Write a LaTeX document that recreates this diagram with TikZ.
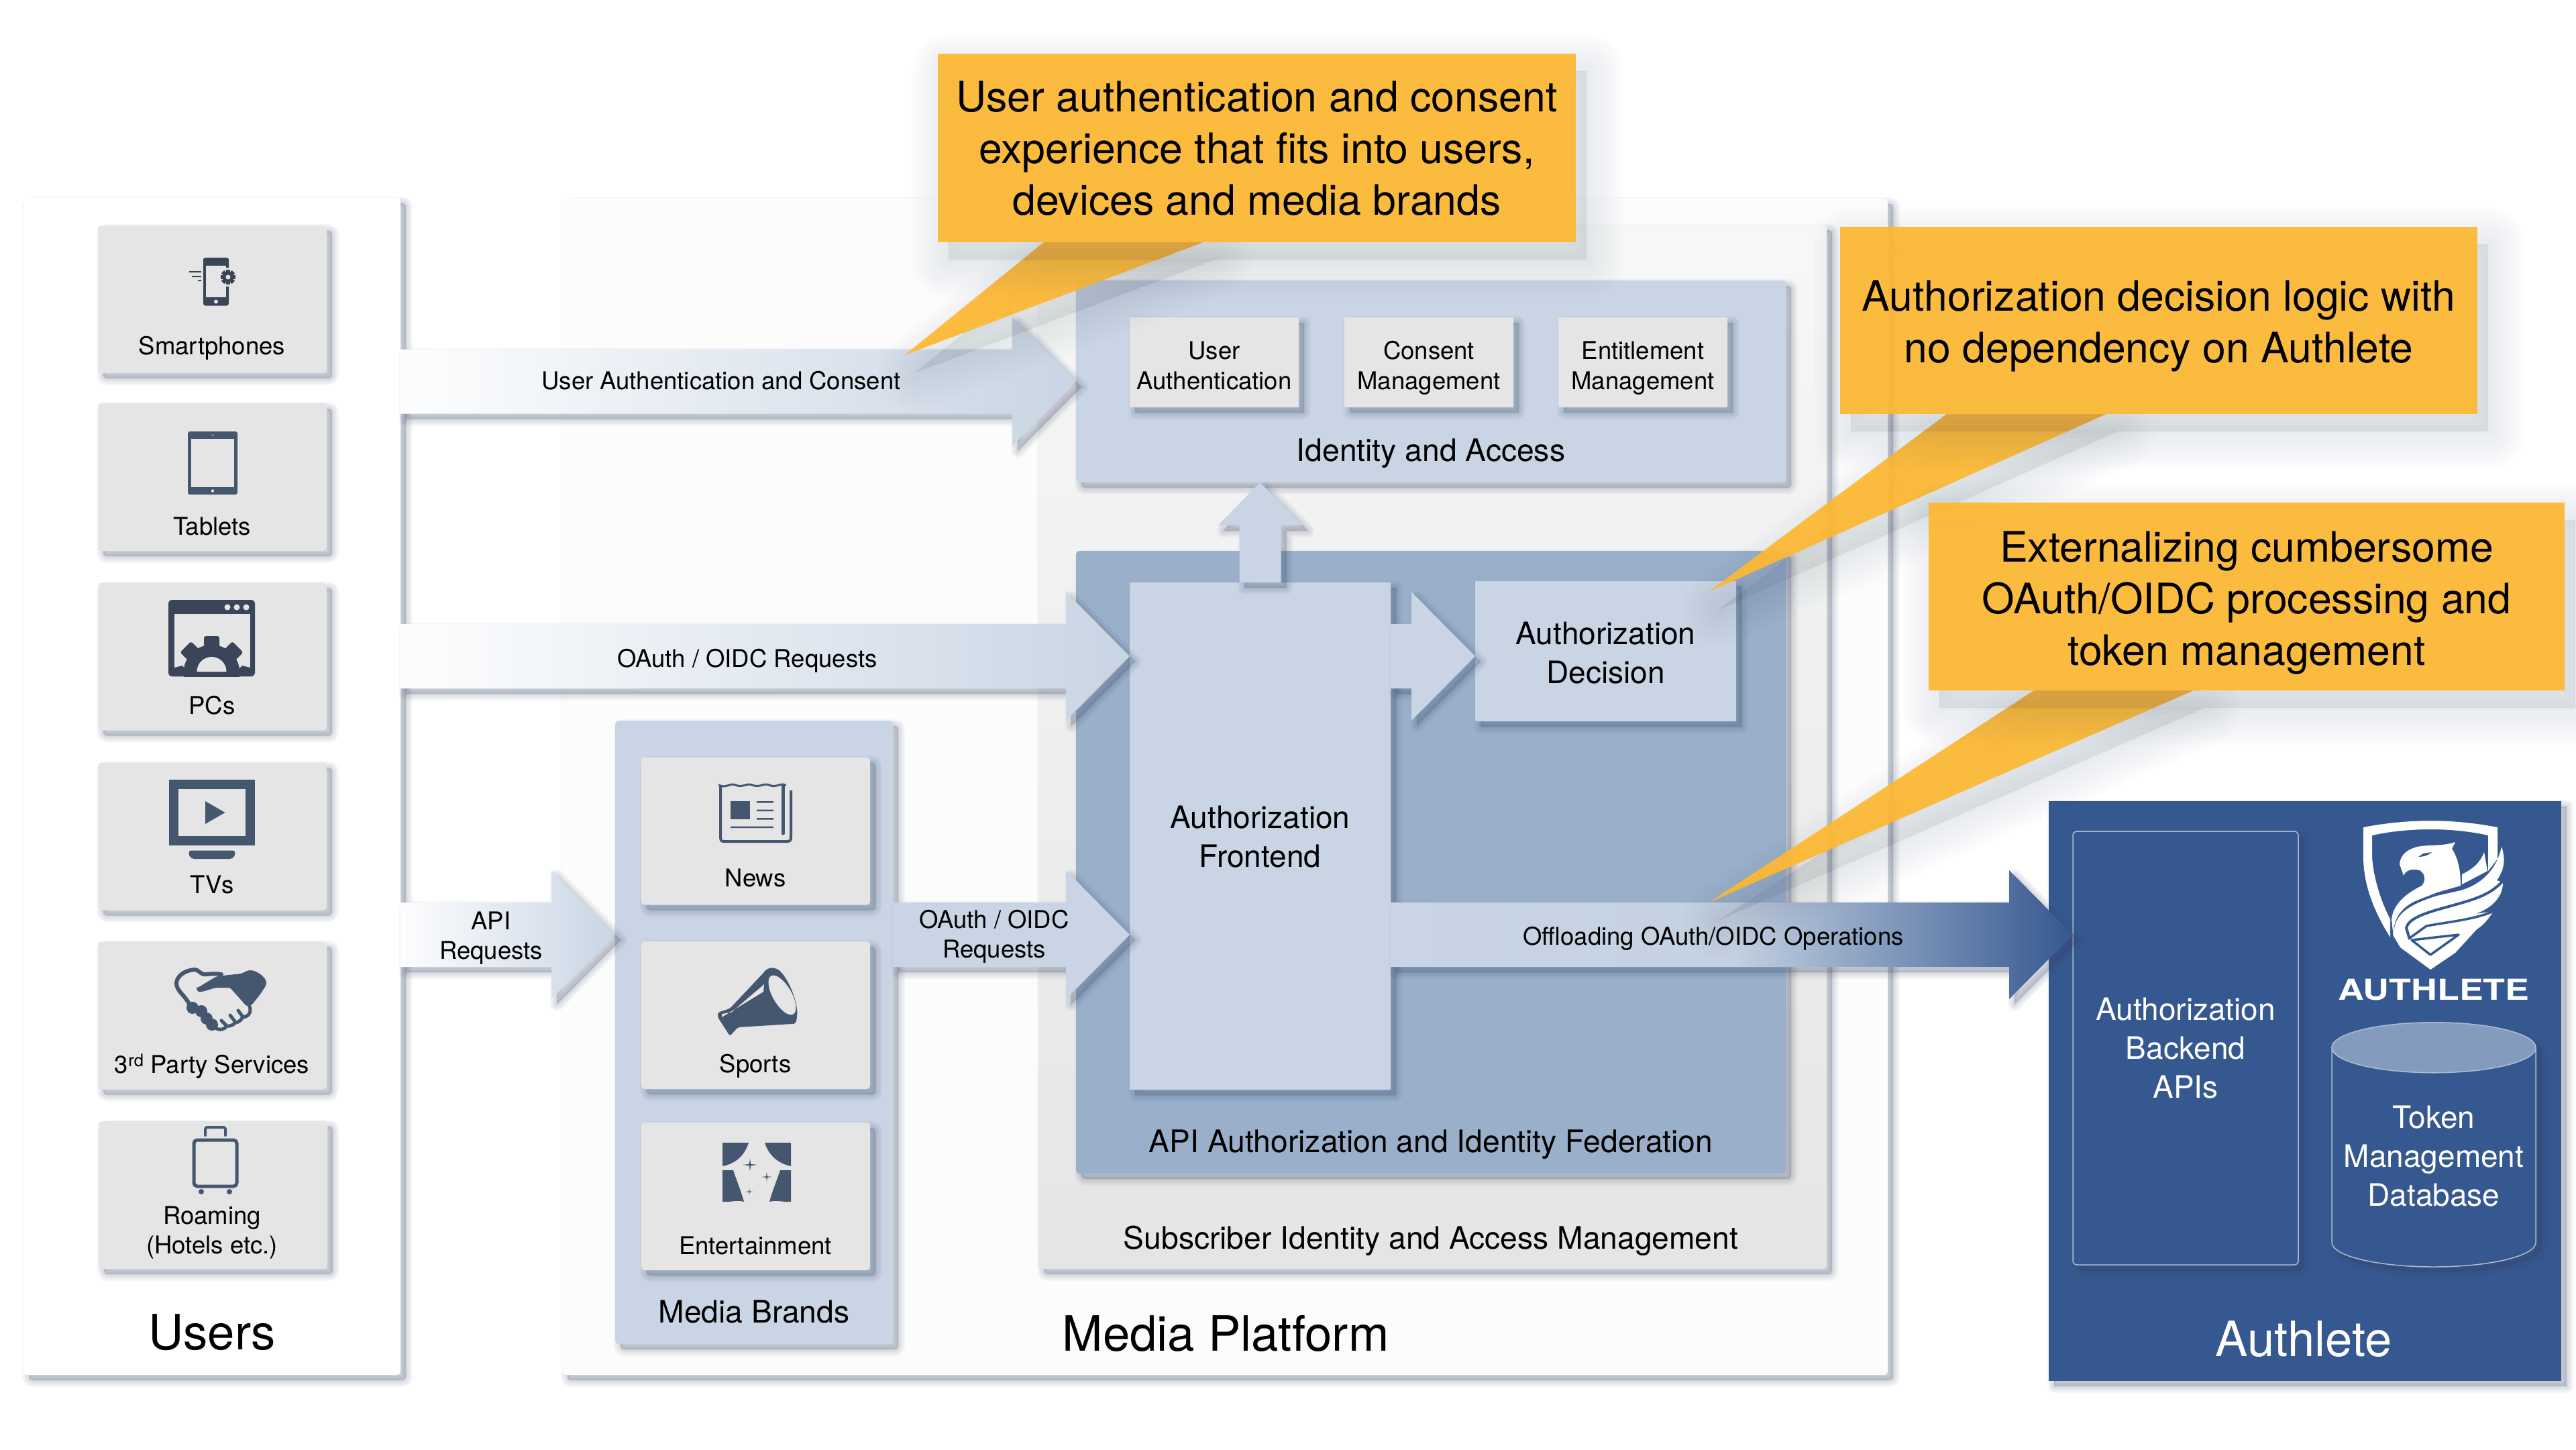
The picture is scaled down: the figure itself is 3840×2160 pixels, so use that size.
\documentclass[tikz,border=0pt]{standalone}
\usepackage{fontspec}
\setmainfont{TeX Gyre Heros}
\newfontfamily\logofont[FakeStretch=1.25]{TeX Gyre Heros}
\usepackage{xcolor}
\usetikzlibrary{calc}
\usetikzlibrary{shapes.geometric}

\definecolor{shadowblue}{HTML}{3A4A6A}
\definecolor{tilegrey}{HTML}{E5E5E5}
\definecolor{paleblue}{HTML}{C9D5E4}
\definecolor{midblue}{HTML}{9AAFC9}
\definecolor{authblue}{HTML}{355890}
\definecolor{dbtop}{HTML}{859BBD}
\definecolor{noteorange}{RGB}{253,184,50}
\definecolor{iconcol}{HTML}{45566F}
\definecolor{icondark}{HTML}{3B4559}

\tikzset{
  shadowlayer/.style={preaction={draw=shadowblue, fill=shadowblue, opacity=.04, line width=#1, line join=round, transform canvas={xshift=8pt, yshift=-8pt}}},
  softshadow/.style={shadowlayer=20, shadowlayer=16, shadowlayer=12, shadowlayer=8, shadowlayer=4, shadowlayer=1},
  notelayer/.style={preaction={draw=shadowblue, fill=shadowblue, opacity=.01, line width=#1, line join=round, transform canvas={xshift=16pt, yshift=-26pt}}},
  noteshadow/.style={notelayer=110, notelayer=95, notelayer=80, notelayer=65, notelayer=50, notelayer=35, notelayer=20, notelayer=5},
  % the last baseline sits half of this below the centre of the node
  lastline/.style={text height=#1, text depth=0pt},
  panel/.style={rectangle, rounded corners=5, inner sep=0, outer sep=0, softshadow},
  tile/.style={panel, fill=tilegrey, minimum width=341, minimum height=220},
  smalltile/.style={tile, lastline=80pt, minimum width=252, minimum height=134, rounded corners=1, align=center, font=\fontsize{36.5}{45}\selectfont},
  bluebox/.style={panel, fill=paleblue, rounded corners=1, align=center, font=\fontsize{46}{58}\selectfont},
  tilelabel/.style={anchor=base, inner sep=0, font=\fontsize{36.5}{44}\selectfont},
  arrowlabel/.style={inner sep=0, align=center, font=\fontsize{36.5}{44}\selectfont},
  sectionlabel/.style={anchor=base, inner sep=0, font=\fontsize{46.2}{58}\selectfont},
  biglabel/.style={anchor=base, inner sep=0, font=\fontsize{72.5}{80}\selectfont},
  note/.style={rectangle, fill=noteorange, fill opacity=.93, text opacity=1, inner sep=0, outer sep=0, align=center, font=\fontsize{62.5}{77}\selectfont},
  notetail/.style={fill=noteorange, fill opacity=.93},
  icon/.style={fill=iconcol},
  iconline/.style={draw=iconcol, line width=5, line cap=round, line join=round},
}

% horizontal block arrow: [options]{from}{to}
\newcommand{\blockarrow}[3][]{%
  \path[softshadow, #1] let \p1=(#2), \p2=(#3) in
    (\x1,\y1+48pt) -- (\x2-95pt,\y1+48pt) -- (\x2-95pt,\y1+96pt) -- (\x2,\y1)
    -- (\x2-95pt,\y1-96pt) -- (\x2-95pt,\y1-48pt) -- (\x1,\y1-48pt) -- cycle;}
\newcommand{\sparkle}[3]{%
  \fill[icon, shift={(#1,#2)}, scale=#3] (0,-1.2) -- (.14,-.14) -- (1.4,0) -- (.14,.14)
    -- (0,1.2) -- (-.14,.14) -- (-1.4,0) -- (-.14,-.14) -- cycle;}

\begin{document}
\begin{tikzpicture}[x=1pt, y=-1pt]
  \useasboundingbox[fill=white] (0,0) rectangle (3840,2160);

  % outer panels
  \node[panel, fill=white, minimum width=562, minimum height=1754]      (users)    at (316,1172)    {};
  \node[panel, fill=white!99!black, minimum width=1976, minimum height=1753] (platform) at (1826,1172.5) {};
  \node[panel, top color=white!97!black, bottom color=tilegrey, minimum width=1175, minimum height=1556] (subscriber) at (2135.5,1113) {};
  \node[panel, fill=paleblue, minimum width=1058, minimum height=301]   (identity) at (2133,568.5)   {};
  \node[panel, fill=midblue, minimum width=1058, minimum height=928]    (apiauth)  at (2133,1285)    {};
  \node[panel, fill=paleblue, minimum width=414, minimum height=929]    (brands)   at (1124,1538.5)  {};
  \node[panel, fill=authblue, rounded corners=0, minimum width=764, minimum height=864] (authlete) at (3436,1626) {};

  % user tiles
  \node[tile] (smartphones) at (316.5,446)  {};
  \node[tile] (tablets)     at (316.5,711)  {};
  \node[tile] (pcs)         at (316.5,978.5) {};
  \node[tile] (tvs)         at (316.5,1246.5) {};
  \node[tile] (parties)     at (316.5,1513.5) {};
  \node[tile] (roaming)     at (317.5,1781) {};

  % brand tiles
  \node[tile] (news)          at (1126.5,1238.5) {};
  \node[tile] (sports)        at (1126.5,1513)   {};
  \node[tile] (entertainment) at (1126.5,1783)   {};

  % identity tiles
  \node[smalltile] (userauthn)   at (1810,540) {User\\Authentication};
  \node[smalltile] (consent)     at (2130,540) {Consent\\Management};
  \node[smalltile] (entitlement) at (2449,540) {Entitlement\\Management};

  % authlete boxes
  \node[panel, lastline=148pt, draw=white!60!authblue, fill=authblue, line width=1.5, rounded corners=6, minimum width=336, minimum height=646,
        align=center, text=white, font=\fontsize{46}{58}\selectfont] (backend) at (3258,1562) {Authorization\\Backend\\APIs};
  \node[cylinder, shape border rotate=90, aspect=.27, softshadow, lastline=144pt, fill=authblue, draw=white!60!authblue, line width=1.5, inner sep=0, outer sep=0,
        minimum width=304, minimum height=363, align=center, text=white, font=\fontsize{46}{58}\selectfont] (tokendb) at (3628,1725) {Token\\Management\\Database};
  \fill[dbtop, draw=white!60!authblue, line width=1.5] ($(tokendb.before top)!.5!(tokendb.after top)$) ellipse (152 and 37.5);

  % frontend and decision
  \node[bluebox, lastline=93pt, minimum width=389, minimum height=756] (frontend) at (1878.5,1246) {Authorization\\Frontend};
  \node[bluebox, lastline=96pt, minimum width=389, minimum height=209] (decision) at (2393.5,970.5) {Authorization\\Decision};

  % free ends of the arrows
  \coordinate (oidcin) at (1684,978);
  \coordinate (apiin)  at (917,1393);
  \coordinate (feapi)  at (1684,1393);
  \coordinate (feout)  at (2073,1393);
  \coordinate (bein)   at (3090,1393);
  \coordinate (fedec)  at (2073,978);
  \coordinate (decin)  at (2199,978);

  % block arrows
  \blockarrow[left color=white!96!paleblue, right color=paleblue]{users.east |- identity.west}{identity.west}
  \blockarrow[left color=white!96!paleblue, right color=paleblue]{users.east |- oidcin}{oidcin}
  \blockarrow[left color=white!96!paleblue, right color=paleblue]{users.east |- apiin}{apiin}
  \blockarrow[fill=paleblue]{brands.east |- feapi}{feapi}
  \blockarrow[fill=paleblue]{fedec}{decin}
  \blockarrow[left color=paleblue, right color=authblue, middle color=paleblue!97!authblue]{feout}{bein}
  \path[softshadow, fill=paleblue] let \p1=(frontend.north), \p2=(identity.south) in
    (\x1-31pt,\y1) -- (\x1-31pt,\y2-64pt) -- (\x1-63pt,\y2-64pt) -- (\x1,\y2)
    -- (\x1+63pt,\y2-64pt) -- (\x1+31pt,\y2-64pt) -- (\x1+31pt,\y1) -- cycle;

  % smartphone icon
  \fill[icon, fill=icondark, rounded corners=3] (303,384) rectangle (341,455.5);
  \fill[tilegrey] (307,396) rectangle (337,443);
  \fill[tilegrey] (322,449.5) circle (3);
  \fill[tilegrey] (340,413) circle (14);
  \foreach \a in {0,45,...,315}
    \fill[icondark, rotate around={\a:(340,413)}] (337,402) rectangle (343,424);
  \fill[icondark] (340,413) circle (8);
  \fill[tilegrey] (340,413) circle (3.5);
  \fill[icondark] (282,404) rectangle (300,406) (286,411) rectangle (300,413) (295,417) rectangle (300,419);

  % tablet icon
  \fill[icon, rounded corners=3] (280,643) rectangle (354,737);
  \fill[tilegrey] (285,654) rectangle (349,726);
  \fill[tilegrey] (317,648.5) circle (1.2) (317,731.5) circle (2.2);

  % pc icon
  \fill[icon, fill=icondark, rounded corners=5] (251,894) rectangle (380,1008);
  \fill[tilegrey] (260,915) rectangle (373,996);
  \foreach \dotx in {339,353,367}
    \fill[tilegrey] (\dotx,905) circle (4.5);
  \begin{scope}
    \clip (251,894) rectangle (380,1008);
    \fill[icondark] (315.5,1003) circle (42);
    \foreach \a in {-45,0,45}
      \fill[icondark, rounded corners=3, rotate around={\a:(315.5,1003)}] (304,948) rectangle (327,980);
  \end{scope}
  \fill[icondark] (260,1008) -- (260,995) -- (272,992) -- (285,1008) -- cycle (373,1008) -- (373,995) -- (361,992) -- (346,1008) -- cycle;
  \fill[tilegrey] (293.5,1001) arc (180:360:22) -- cycle;

  % tv icon
  \fill[icon] (252,1162) rectangle (380,1260);
  \fill[tilegrey] (266,1176) rectangle (366,1245.5);
  \fill[icon] (306,1194) -- (335.5,1211) -- (306,1228) -- cycle;
  \fill[icon, rounded corners=5] (280,1267.6) -- (352,1267.6) -- (348,1280) -- (284,1280) -- cycle;

  % handshake icon
  \draw[iconline, line width=6] (330,1452) .. controls (315,1450) and (305,1453) .. (303,1452) .. controls (298,1450) and (295,1445) .. (290,1445)
    .. controls (275,1446) and (263,1455) .. (263,1466) .. controls (264,1478) and (275,1482) .. (283,1498);
  \fill[icon, rounded corners=3] (293,1473) -- (323,1455) -- (360,1451) -- (370,1446) .. controls (382,1446) and (397,1456) .. (397,1468)
    -- (387,1483) -- (375,1498) -- (368,1500) -- (343,1472) -- (323,1472) .. controls (312,1474) and (296,1482) .. (293,1473) -- cycle;
  \foreach \fx/\fy in {287/1502,300/1507,308/1518,316/1527}
    \fill[icon] (\fx,\fy) circle (9);
  \draw[iconline, line width=5] (372,1500) .. controls (376,1510) and (368,1516) .. (362,1516) .. controls (358,1522) and (354,1524) .. (351,1524)
    .. controls (347,1528) and (342,1530) .. (338,1529) .. controls (334,1535) and (325,1537) .. (320,1530);
  \draw[iconline, line width=5] (355,1506) -- (361,1514) (343,1513) -- (350,1522) (330,1521) -- (337,1528);

  % suitcase icon
  \draw[iconline, line width=5, rounded corners=5] (289,1699) rectangle (353,1768);
  \draw[iconline, line width=4, rounded corners=3] (306,1692) -- (306,1680) -- (336,1680) -- (336,1692);
  \fill[icon] (300,1776) circle (4) (342,1776) circle (4);

  % newspaper icon
  \draw[iconline, line width=4, line cap=butt] (1074,1170) -- (1074,1248) .. controls (1074,1254) and (1077,1254) .. (1080,1254) -- (1173,1254)
    .. controls (1178,1254) and (1179,1252) .. (1179,1248) -- (1179,1178);
  \draw[iconline, line width=3] (1072,1170) .. controls (1082,1176) and (1087,1166) .. (1097,1170) .. controls (1107,1175) and (1112,1166) .. (1122,1170)
    .. controls (1132,1175) and (1137,1166) .. (1147,1170) .. controls (1157,1175) and (1162,1166) .. (1171,1170);
  \draw[iconline, line width=5] (1167.5,1170) -- (1167.5,1242);
  \fill[icon] (1089,1194) rectangle (1118,1221);
  \fill[icon] (1128,1194) rectangle (1153,1196.5) (1128,1206.5) rectangle (1153,1209) (1128,1219) rectangle (1153,1221.5) (1089,1231.5) rectangle (1153,1234);

  % megaphone icon
  \fill[icon, rounded corners=3] (1070,1509) -- (1088,1503) -- (1138,1450) .. controls (1143,1443) and (1150,1442) .. (1155,1443) .. controls (1170,1448) and (1190,1490) .. (1188,1515)
    .. controls (1187,1524) and (1185,1526) .. (1180,1526) -- (1100,1531) -- (1088,1544) -- (1070,1516) -- cycle;
  \fill[tilegrey, rotate around={-60:(1166,1483)}] (1166,1483) ellipse (33 and 14);
  \fill[tilegrey] (1076,1516) -- (1138,1478) -- (1139,1467) -- (1090,1509) -- (1076,1511) -- cycle;

  % curtain icon
  \fill[icon] (1077,1703) -- (1116,1703) .. controls (1110,1722) and (1097,1734) .. (1077,1738) -- cycle;
  \fill[icon] (1140,1703) -- (1179,1703) -- (1179,1738) .. controls (1160,1734) and (1146,1722) .. (1140,1703) -- cycle;
  \fill[icon] (1077,1744) -- (1093,1744) .. controls (1099,1762) and (1105,1776) .. (1109,1791) .. controls (1098,1788) and (1088,1792) .. (1077,1791) -- cycle;
  \fill[icon] (1179,1744) -- (1163,1744) .. controls (1157,1762) and (1151,1776) .. (1147,1791) .. controls (1158,1788) and (1168,1792) .. (1179,1791) -- cycle;
  \sparkle{1118}{1736}{8}
  \sparkle{1143}{1754}{6}
  \sparkle{1117}{1776}{4.5}

  % authlete shield
  \fill[white] (3523,1233) .. controls (3590,1220) and (3656,1220) .. (3723,1233) -- (3723,1280) -- (3709,1298) -- (3709,1245)
    .. controls (3656,1233) and (3590,1233) .. (3536,1245) -- (3536,1277) .. controls (3538,1310) and (3550,1345) .. (3563,1370) -- (3563,1397)
    .. controls (3540,1360) and (3523,1320) .. (3523,1277) -- cycle;
  \fill[white] (3660,1255) .. controls (3640,1262) and (3615,1258) .. (3600,1263) .. controls (3588,1267) and (3578,1274) .. (3577,1288) -- (3583,1305)
    .. controls (3586,1297) and (3595,1294) .. (3607,1297) .. controls (3615,1302) and (3617,1312) .. (3610,1320) .. controls (3590,1330) and (3568,1345) .. (3565,1370)
    -- (3568,1398) .. controls (3566,1375) and (3575,1355) .. (3600,1343) -- (3633,1330) -- (3668,1320) .. controls (3668,1300) and (3665,1280) .. (3655,1265) -- cycle;
  \fill[white] (3670,1303) .. controls (3685,1296) and (3698,1285) .. (3703,1270) -- (3708,1298) -- (3670,1318) -- cycle;
  \fill[white] (3568,1395) .. controls (3568,1365) and (3585,1350) .. (3633,1335) -- (3668,1327) .. controls (3700,1318) and (3722,1295) .. (3729,1262)
    .. controls (3737,1285) and (3730,1300) .. (3722,1312) -- (3731,1315) .. controls (3731,1340) and (3710,1355) .. (3690,1362) -- (3717,1358)
    .. controls (3708,1372) and (3700,1380) .. (3692,1385) -- (3660,1420) -- (3623,1445) -- (3578,1412) -- cycle;
  \draw[authblue, line width=4] (3731,1313) .. controls (3710,1335) and (3690,1340) .. (3643,1353) .. controls (3610,1362) and (3590,1370) .. (3587,1383) -- (3592,1400);
  \draw[authblue, line width=3.5] (3717,1358) .. controls (3690,1370) and (3650,1374) .. (3617,1380) -- (3592,1398);
  \draw[authblue, line width=3.5, line join=round] (3595,1401) -- (3665,1393) -- (3623,1423) -- cycle;
  \fill[authblue] (3605,1277) .. controls (3612,1277) and (3620,1275) .. (3625,1270) -- (3612,1272) -- cycle;

  % callout tails
  \coordinate (tipnote)  at (1349,529);
  \coordinate (tipdec)   at (2547,882);
  \coordinate (tipoff)   at (2547,1345);
  \fill[noteshadow, notetail] (1556,361) -- (1794,361) -- (tipnote) -- cycle;
  \fill[noteshadow, notetail] (2902,617) -- (3140,617) -- (tipdec) -- cycle;
  \fill[noteshadow, notetail] (3032,1029) -- (3270,1029) -- (tipoff) -- cycle;

  % callouts
  \node[note, noteshadow, lastline=199pt, minimum width=951, minimum height=281] (noteexp) at (1873.5,220.5)
    {User authentication and consent\\experience that fits into users,\\devices and media brands};
  \node[note, noteshadow, lastline=125pt, minimum width=950, minimum height=279] (notedec) at (3218,477.5)
    {Authorization decision logic with\\no dependency on Authlete};
  \node[note, noteshadow, lastline=204pt, minimum width=948, minimum height=280] (noteoff) at (3349,889)
    {Externalizing cumbersome\\OAuth/OIDC processing and\\token management};

  % tile labels
  \node[tilelabel] (smartlabel)   at (316,528)   {Smartphones};
  \node[tilelabel] (tabletlabel)  at (316,797)   {Tablets};
  \node[tilelabel] (pclabel)      at (316,1064)  {PCs};
  \node[tilelabel] (tvlabel)      at (316,1331)  {TVs};
  \node[tilelabel] (partylabel)   at (316,1599)  {3\textsuperscript{rd} Party Services};
  \node[tilelabel] (roamlabel)    at (316,1824)  {Roaming};
  \node[tilelabel] (hotellabel)   at (316,1868)  {(Hotels etc.)};
  \node[tilelabel] (newslabel)    at (1126,1321) {News};
  \node[tilelabel] (sportslabel)  at (1126,1598) {Sports};
  \node[tilelabel] (showlabel)    at (1126,1869) {Entertainment};

  % arrow labels
  \node[tilelabel]  (authnlabel)  at (1075,580)  {User Authentication and Consent};
  \node[tilelabel]  (oidclabel)   at (1114,994)  {OAuth / OIDC Requests};
  \node[arrowlabel, lastline=67pt] (apilabel)   at (732,1396)  {API\\Requests};
  \node[arrowlabel, lastline=68pt] (feapilabel) at (1482,1393) {OAuth / OIDC\\Requests};
  \node[tilelabel]  (offlabel)    at (2554,1408) {Offloading OAuth/OIDC Operations};

  % section labels
  \node[biglabel] (userstitle)    at (316,2011)  {Users};
  \node[biglabel] (platformtitle) at (1827,2013) {Media Platform};
  \node[biglabel, text=white] (authletetitle) at (3434,2021) {Authlete};
  \node[sectionlabel] (brandstitle)     at (1124,1971) {Media Brands};
  \node[sectionlabel] (identitytitle)   at (2133,687)  {Identity and Access};
  \node[sectionlabel] (apiauthtitle)    at (2133,1717) {API Authorization and Identity Federation};
  \node[sectionlabel] (subscribertitle) at (2133,1861) {Subscriber Identity and Access Management};
  \node[anchor=base, inner sep=0, text=white, font=\logofont\bfseries\fontsize{43}{50}\selectfont] (logotext) at (3628,1490) {AUTHLETE};
\end{tikzpicture}
\end{document}
